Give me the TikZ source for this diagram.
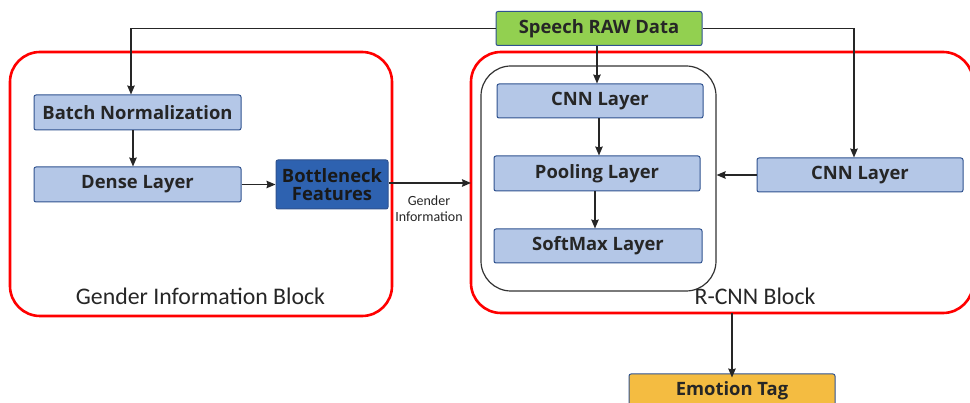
\documentclass[tikz,border=0pt]{standalone}
\usepackage{fontspec}
\setmainfont{Open Sans}
\newfontfamily\carlitofont{Carlito}
\usetikzlibrary{arrows.meta,calc}
\definecolor{boxblue}{HTML}{B4C7E7}
\definecolor{boxedge}{HTML}{2F528F}
\definecolor{darkbox}{HTML}{2E62B0}
\definecolor{greenbox}{HTML}{92D050}
\definecolor{goldbox}{HTML}{F4BC41}
\definecolor{redline}{HTML}{FF0000}
\tikzset{
  layer/.style={draw=boxedge, line width=1pt, fill=boxblue, rounded corners=2pt,
    minimum width=206pt, minimum height=34pt, inner sep=0pt,
    font=\fontsize{18.4}{20}\selectfont\bfseries, text=black!85},
  arr/.style={-{Stealth[length=9pt,width=7.5pt,inset=1pt]}, line width=1.4pt, black!85},
  block/.style={draw=redline, line width=2.6pt, rounded corners=30pt},
  blocklabel/.style={font=\carlitofont\fontsize{23.8}{26}\selectfont, text=black!85},
}
\begin{document}
\begin{tikzpicture}[x=1pt,y=-1pt]
\useasboundingbox (0,0) rectangle (970,403);
% blocks
\draw[block] (10,52) rectangle (392,316);
\draw[block] (471,52) rectangle (973,313);
\node[draw=black!80, line width=1.2pt, rounded corners=30pt, minimum width=235pt, minimum height=225pt] (inner) at (598.5,178.5) {};
% nodes
\node[layer, fill=greenbox] (speech) at (599,28.5) {Speech RAW Data};
\node[layer, minimum width=207pt, minimum height=35pt] (batch) at (137.5,112.5) {Batch Normalization};
\node[layer, minimum width=207pt, minimum height=35pt] (dense) at (137.5,184.5) {Dense Layer};
\node[layer, fill=darkbox, minimum width=112pt, minimum height=49pt, align=center,
  font=\fontsize{18.4}{18}\selectfont\bfseries, text=black!90] (bn) at (332,184.5) {Bottleneck\\Features};
\node[layer] (cnn1) at (600,101) {CNN Layer};
\node[layer, minimum height=35pt] (pool) at (597,173.5) {Pooling Layer};
\node[layer, minimum width=208pt] (soft) at (598,246) {SoftMax Layer};
\node[layer] (cnn2) at (860,175) {CNN Layer};
\node[layer, fill=goldbox, minimum height=34pt] (emo) at (732,391) {Emotion Tag};
% labels
\node[blocklabel] (glabel) at (200.5,296) {Gender Information Block};
\node[blocklabel] (rlabel) at (755,296.5) {R-CNN Block};
\node[font=\carlitofont\fontsize{14}{16}\selectfont, align=center, text=black!85] (ginfo) at (429,208.5) {Gender\\Information};
% named anchors
\coordinate (bnend) at (471,183);
\coordinate (rcnnS) at (732,313);
% connectors
\draw[arr] (speech.west) -| ([xshift=-6.5pt]batch.north);
\draw[arr] (speech.east) -| ([xshift=-6pt]cnn2.north);
\draw[arr] ([xshift=-2pt]speech.south) -- ([xshift=-3pt]cnn1.north);
\draw[arr] ([xshift=-4.5pt]batch.south) -- ([xshift=-4.5pt]dense.north);
\draw[arr] (dense.east) -- (bn.west);
\draw[arr] (bn.east |- bnend) -- (bnend);
\draw[arr] ([xshift=-1pt]cnn1.south) -- ([xshift=2pt]pool.north);
\draw[arr] ([xshift=-2pt]pool.south) -- ([xshift=-3pt]soft.north);
\draw[arr] (cnn2.west) -- (cnn2.west -| inner.east);
\draw[arr] (rcnnS) -- ([yshift=-4pt]emo.north);
\end{tikzpicture}
\end{document}
